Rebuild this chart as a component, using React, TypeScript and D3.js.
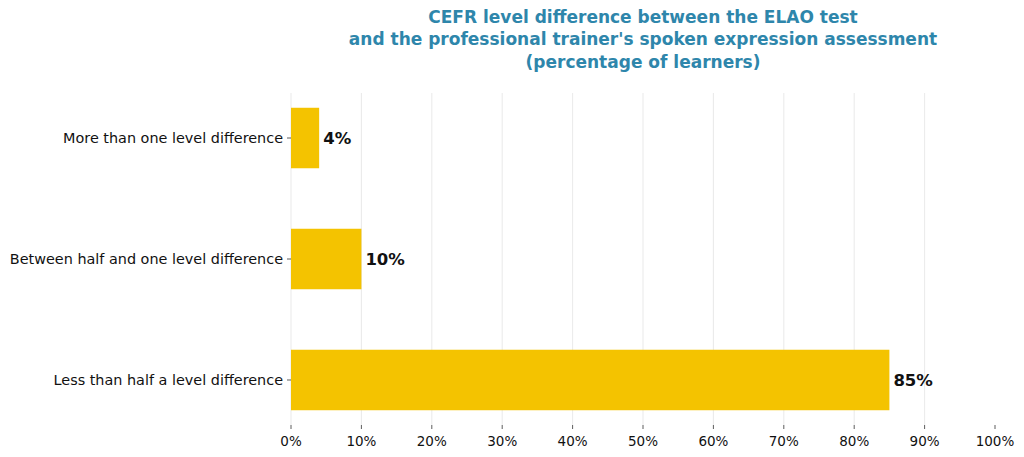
import React from "react";
import * as d3 from "d3";

const categories = [
  "Less than half a level difference",
  "Between half and one level difference",
  "More than one level difference",
];
const values = [85, 10, 4];
const xTicks = [0, 10, 20, 30, 40, 50, 60, 70, 80, 90, 100];
const titleLines = [
  "CEFR level difference between the ELAO test",
  "and the professional trainer's spoken expression assessment",
  "(percentage of learners)",
];

export default function App() {
  const W = 1024, H = 457;
  const left = 291, right = 995, top = 93, bottom = 425;
  const x = d3.scaleLinear().domain([0, 100]).range([left, right]);
  const y = d3.scaleLinear().domain([-0.372, 2.372]).range([bottom, top]);
  const barH = y(0) - y(0.5);
  const font = "'DejaVu Sans', sans-serif";
  return (
    <svg width={W} height={H} style={{ position: "absolute", left: 0, top: 0 }}>
      <rect width={W} height={H} fill="#fff" />
      {xTicks.filter((t) => t < 100).map((t) => (
        <line key={"g" + t} x1={x(t)} x2={x(t)} y1={top} y2={bottom} stroke="#e3e3e3" strokeWidth={0.8} />
      ))}
      {values.map((v, i) => (
        <g key={"b" + i}>
          <rect x={x(0)} y={y(i) - barH / 2} width={x(v) - x(0)} height={barH} fill="#F4C300" />
          <text x={x(v) + 4} y={y(i)} dy="0.35em" fontFamily={font} fontWeight="bold" fontSize={16.5} fill="#111">
            {v}%
          </text>
        </g>
      ))}
      {xTicks.map((t) => (
        <g key={"t" + t}>
          <line x1={x(t)} x2={x(t)} y1={bottom} y2={bottom + 4} stroke="#333" strokeWidth={0.8} />
          <text x={x(t)} y={bottom + 16} textAnchor="middle" dy="0.35em" fontFamily={font} fontSize={13.5} fill="#111">
            {t}%
          </text>
        </g>
      ))}
      {categories.map((c, i) => (
        <g key={"c" + i}>
          <line x1={left - 4} x2={left} y1={y(i)} y2={y(i)} stroke="#333" strokeWidth={0.8} />
          <text x={left - 8} y={y(i)} dy="0.35em" textAnchor="end" fontFamily={font} fontSize={14.4} fill="#111">
            {c}
          </text>
        </g>
      ))}
      {titleLines.map((l, i) => (
        <text key={"h" + i} x={(left + right) / 2} y={17 + i * 22.5} dy="0.35em" textAnchor="middle" fontFamily={font} fontWeight="bold" fontSize={17} fill="#2E86AB">
          {l}
        </text>
      ))}
    </svg>
  );
}
